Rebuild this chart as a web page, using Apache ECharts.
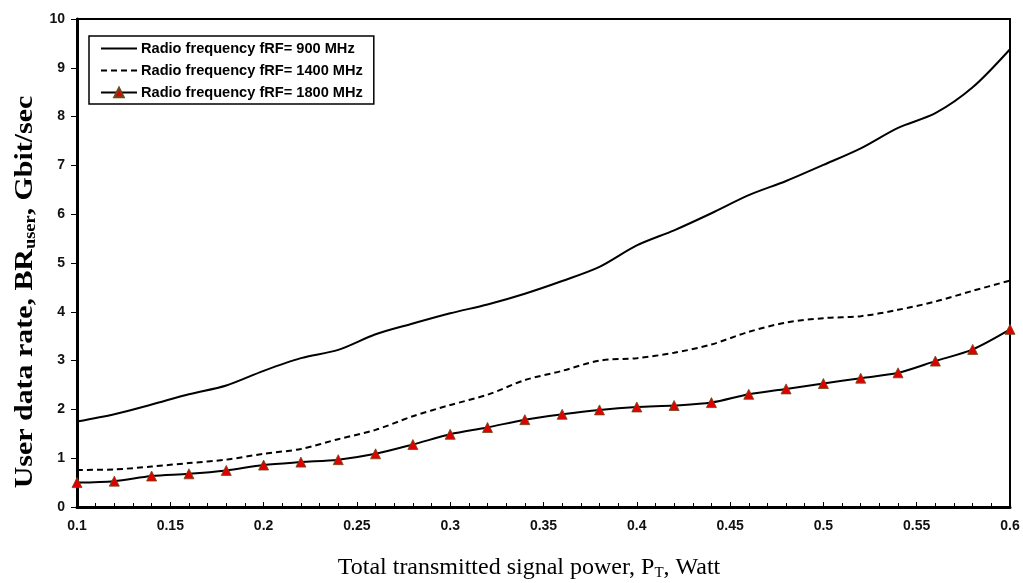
<!DOCTYPE html>
<html>
<head>
<meta charset="utf-8">
<script src="https://cdn.jsdelivr.net/npm/echarts@6/dist/echarts.min.js"></script>
<style>html,body{margin:0;padding:0;background:#fff}#c{width:1023px;height:583px}</style>
</head>
<body>
<div id="c"></div>
<script>
const powerW = [0.10,0.12,0.14,0.16,0.18,0.20,0.22,0.24,0.26,0.28,0.30,0.32,0.34,0.36,0.38,0.40,0.42,0.44,0.46,0.48,0.50,0.52,0.54,0.56,0.58,0.60];
const rate900 = [1.75,1.90,2.10,2.31,2.49,2.79,3.05,3.22,3.54,3.76,3.97,4.15,4.37,4.63,4.92,5.36,5.67,6.02,6.39,6.68,7.01,7.35,7.77,8.07,8.60,9.38];
const rate1400 = [0.76,0.77,0.83,0.90,0.97,1.09,1.19,1.39,1.58,1.86,2.09,2.30,2.60,2.79,3.00,3.05,3.16,3.33,3.59,3.78,3.87,3.91,4.04,4.21,4.43,4.64];
const rate1800 = [0.50,0.53,0.635,0.68,0.75,0.86,0.92,0.97,1.09,1.28,1.49,1.63,1.79,1.90,1.99,2.05,2.08,2.14,2.31,2.42,2.53,2.64,2.75,2.99,3.23,3.64];
const seriesNames = ['Radio frequency fRF= 900 MHz','Radio frequency fRF= 1400 MHz','Radio frequency fRF= 1800 MHz'];
const yTicks = [0,1,2,3,4,5,6,7,8,9,10];

const pair = (ys) => powerW.map((x, i) => [x, ys[i]]);
const chart = echarts.init(document.getElementById('c'));
const tickFont = {fontFamily:'Liberation Sans, Arial', fontWeight:'bold', fontSize:14, color:'#111'};
const hiddenSym = {color:'rgba(0,0,0,0)', borderWidth:0, opacity:0};
chart.setOption({
  animation:false,
  backgroundColor:'#fff',
  grid:{left:77, right:13, top:19, bottom:76, show:true, borderColor:'#000', borderWidth:2},
  legend:{
    left:89, top:36, orient:'vertical',
    data:[
      {name:seriesNames[0], itemStyle:hiddenSym},
      {name:seriesNames[1], itemStyle:hiddenSym},
      {name:seriesNames[2]}
    ],
    borderColor:'#000', borderWidth:1.5, padding:[5,11,4,11],
    itemWidth:36, itemHeight:12, itemGap:7,
    textStyle:{fontFamily:'Liberation Sans, Arial', fontWeight:'bold', fontSize:14.6, color:'#000', padding:[0,0,0,-1]}
  },
  xAxis:{
    type:'value', min:0.1, max:0.6, interval:0.05,
    axisLine:{lineStyle:{color:'#000', width:3}},
    axisTick:{inside:true, length:5, lineStyle:{color:'#000', width:1}},
    minorTick:{show:true, splitNumber:5, length:4, lineStyle:{color:'#000', width:1}},
    splitLine:{show:false},
    axisLabel:Object.assign({margin:12, formatter:(v)=>String(parseFloat(v.toFixed(2)))}, tickFont)
  },
  yAxis:{
    type:'value', min:0, max:10, interval:1,
    axisLine:{lineStyle:{color:'#000', width:3}},
    axisTick:{inside:false, length:6, lineStyle:{color:'#000', width:1}},
    splitLine:{show:false},
    axisLabel:Object.assign({margin:12, formatter:(v)=> yTicks.includes(v) ? String(v) : ''}, tickFont)
  },
  graphic:[
    {type:'text', x:25, y:292, rotation:Math.PI/2, scaleX:1.15, style:{
      text:'{b|User data rate, BR}{s|user}{b|, Gbit/sec}',
      align:'center', verticalAlign:'middle',
      rich:{
        b:{fontFamily:'Liberation Serif, Times New Roman', fontWeight:'bold', fontSize:26, fill:'#000', color:'#000'},
        s:{fontFamily:'Liberation Serif, Times New Roman', fontWeight:'bold', fontSize:16, fill:'#000', color:'#000', padding:[12,0,0,0]}
      }}},
    {type:'text', x:529, y:568, style:{
      text:'{n|Total transmitted signal power, P}{s|T}{n|, Watt}',
      align:'center', verticalAlign:'middle',
      rich:{
        n:{fontFamily:'Liberation Serif, Times New Roman', fontSize:24, fill:'#000', color:'#000'},
        s:{fontFamily:'Liberation Serif, Times New Roman', fontSize:15, fill:'#000', color:'#000', padding:[11,0,0,0]}
      }}}
  ],
  series:[
    {name:seriesNames[0], type:'line', data:pair(rate900), smooth:0.3, symbol:'none',
      lineStyle:{color:'#000', width:2}, itemStyle:{color:'#000'}},
    {name:seriesNames[1], type:'line', data:pair(rate1400), smooth:0.3, symbol:'none',
      lineStyle:{color:'#000', width:2, type:[6,4]}, itemStyle:{color:'#000'}},
    {name:seriesNames[2], type:'line', data:pair(rate1800), smooth:0.3, symbol:'triangle', symbolSize:10,
      lineStyle:{color:'#000', width:2}, itemStyle:{color:'#e00000', borderColor:'#6b4a1a', borderWidth:0.8}}
  ]
});
</script>
</body>
</html>
